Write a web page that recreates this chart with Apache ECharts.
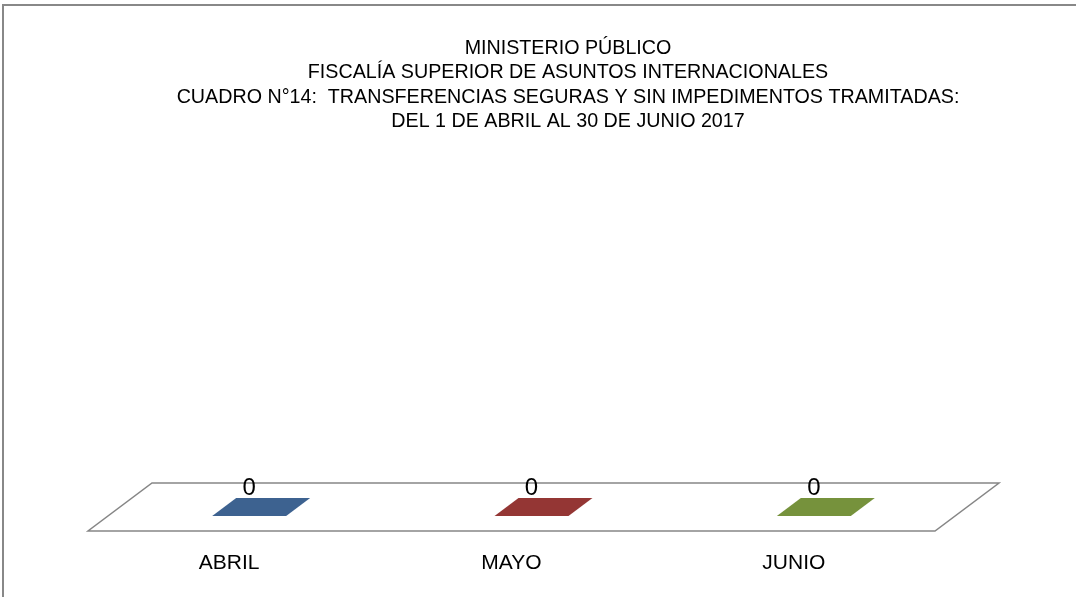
<!DOCTYPE html>
<html>
<head>
<meta charset="utf-8">
<script src="https://cdn.jsdelivr.net/npm/echarts@6/dist/echarts.min.js"></script>
<style>
html,body{margin:0;padding:0;background:#fff;}
#chart{width:1076px;height:597px;}
</style>
</head>
<body>
<div id="chart"></div>
<script>
const titleLines = [
  'MINISTERIO PÚBLICO',
  'FISCALÍA SUPERIOR DE ASUNTOS INTERNACIONALES',
  'CUADRO N°14:  TRANSFERENCIAS SEGURAS Y SIN IMPEDIMENTOS TRAMITADAS:',
  'DEL 1 DE ABRIL AL 30 DE JUNIO 2017'
];
const categories = ['ABRIL', 'MAYO', 'JUNIO'];
const values = [0, 0, 0];
const barColors = ['#3D6290', '#943634', '#76923C'];

const FONT = 'Liberation Sans';
const DEPTH_X = 64, DEPTH_Y = 48;
const chart = echarts.init(document.getElementById('chart'));

function floorItem(params, api) {
  const n = categories.length;
  const band = api.size([1, 0])[0];
  const first = api.coord([0, 0]);
  const last = api.coord([n - 1, 0]);
  const x0 = first[0] - band / 2, x1 = last[0] + band / 2, y = first[1];
  return {
    type: 'polygon',
    shape: { points: [[x0, y], [x1, y], [x1 + DEPTH_X, y - DEPTH_Y], [x0 + DEPTH_X, y - DEPTH_Y]] },
    style: { fill: 'none', stroke: '#868686', lineWidth: 1.5 },
    silent: true
  };
}

function barItem(params, api) {
  const idx = api.value(0);
  const val = api.value(1);
  const base = api.coord([idx, 0]);
  const top = api.coord([idx, val]);
  const band = api.size([1, 0])[0];
  const w = band * 0.262;
  const f1 = 0.3125, f2 = 0.6875;
  const h = base[1] - top[1];
  const cx = base[0], y = base[1];
  const fx1 = cx + DEPTH_X * f1, fy1 = y - DEPTH_Y * f1;
  const fx2 = cx + DEPTH_X * f2, fy2 = y - DEPTH_Y * f2;
  const color = barColors[idx];
  const children = [];
  children.push({
    type: 'polygon',
    shape: { points: [[fx1 - w / 2, fy1 - h], [fx1 + w / 2, fy1 - h], [fx2 + w / 2, fy2 - h], [fx2 - w / 2, fy2 - h]] },
    style: { fill: color }
  });
  children.push({
    type: 'text',
    style: {
      text: String(val), x: fx1, y: fy2 - h - 10,
      align: 'center', verticalAlign: 'middle',
      font: '24px "' + FONT + '"', fill: '#000'
    }
  });
  return { type: 'group', children: children };
}

chart.setOption({
  animation: false,
  backgroundColor: '#fff',
  title: {
    text: titleLines.join('\n'),
    left: 563, top: 31, textAlign: 'center',
    textStyle: { fontFamily: FONT, fontSize: 19.7, fontWeight: 'normal', color: '#000', lineHeight: 24.5 }
  },
  graphic: [{
    type: 'polyline',
    shape: { points: [[3, 597], [3, 5], [1076, 5]] },
    style: { stroke: '#888', lineWidth: 2, fill: 'none' },
    silent: true
  }],
  grid: { left: 88, right: 141, top: 150, bottom: 66 },
  xAxis: {
    type: 'category', data: categories,
    axisLine: { show: false }, axisTick: { show: false },
    axisLabel: { margin: 22, fontFamily: FONT, fontSize: 21, color: '#000' }
  },
  yAxis: { type: 'value', min: 0, max: 1, show: false },
  series: [
    { type: 'custom', renderItem: floorItem, data: [[0, 0]], silent: true, z: 1 },
    { type: 'custom', renderItem: barItem, data: values.map((v, i) => [i, v]), z: 2 }
  ]
});
</script>
</body>
</html>
